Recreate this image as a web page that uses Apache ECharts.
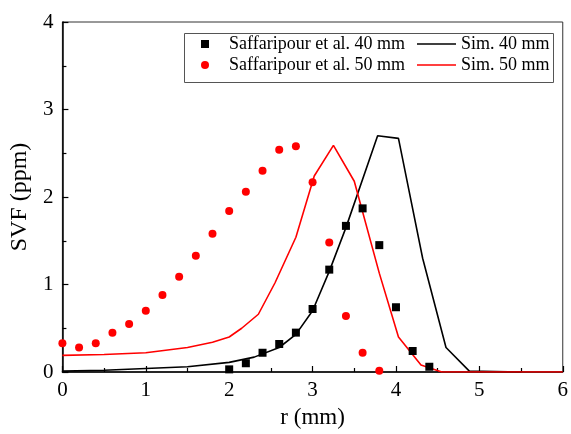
<!DOCTYPE html>
<html>
<head>
<meta charset="utf-8">
<script src="https://cdn.jsdelivr.net/npm/echarts@6/dist/echarts.min.js"></script>
<style>
  html, body { margin: 0; padding: 0; background: #fff; }
  #chart { width: 571px; height: 434px; }
</style>
</head>
<body>
<div id="chart"></div>
<script>
// Measured soot volume fraction (ppm) vs radius r (mm)
const exp40R   = [2.0, 2.2, 2.4, 2.6, 2.8, 3.0, 3.2, 3.4, 3.6, 3.8, 4.0, 4.2, 4.4];
const exp40SVF = [0.03, 0.10, 0.22, 0.32, 0.45, 0.72, 1.17, 1.67, 1.87, 1.45, 0.74, 0.24, 0.06];

const exp50R   = [0.0, 0.2, 0.4, 0.6, 0.8, 1.0, 1.2, 1.4, 1.6, 1.8, 2.0, 2.2, 2.4, 2.6, 2.8, 3.0, 3.2, 3.4, 3.6, 3.8];
const exp50SVF = [0.33, 0.28, 0.33, 0.45, 0.55, 0.70, 0.88, 1.09, 1.33, 1.58, 1.84, 2.06, 2.30, 2.54, 2.58, 2.17, 1.48, 0.64, 0.22, 0.015];

// Simulated profiles
const sim40R   = [0.0, 0.5, 1.0, 1.5, 2.0, 2.3, 2.6, 2.8, 3.0, 3.2, 3.4, 3.78, 4.03, 4.32, 4.6, 4.88, 5.5];
const sim40SVF = [0.01, 0.02, 0.04, 0.06, 0.11, 0.17, 0.28, 0.43, 0.70, 1.15, 1.65, 2.70, 2.67, 1.30, 0.28, 0.01, 0.0];

const sim50R   = [0.0, 0.5, 1.0, 1.5, 1.8, 2.0, 2.15, 2.35, 2.55, 2.8, 3.02, 3.25, 3.5, 3.8, 4.03, 4.3, 4.55, 6.0];
const sim50SVF = [0.19, 0.20, 0.22, 0.28, 0.34, 0.40, 0.50, 0.66, 1.02, 1.54, 2.24, 2.59, 2.18, 1.13, 0.40, 0.08, 0.0, 0.0];

const seriesNames = ['Saffaripour et al. 40 mm', 'Saffaripour et al. 50 mm', 'Sim. 40 mm', 'Sim. 50 mm'];

const pairs = (xs, ys) => xs.map((x, i) => [x, ys[i]]);
const FONT = 'Liberation Serif';

const legendText = { fontFamily: FONT, fontSize: 18, lineHeight: 18, color: '#000' };

const chart = echarts.init(document.getElementById('chart'));
chart.setOption({
  animation: false,
  backgroundColor: '#fff',
  textStyle: { fontFamily: FONT },
  grid: {
    left: 62, right: 4, top: 22, bottom: 57,
    show: true, borderColor: '#333', borderWidth: 1, backgroundColor: 'transparent'
  },
  xAxis: {
    type: 'value', min: 0, max: 6, interval: 1,
    name: 'r (mm)', nameLocation: 'middle', nameGap: 34,
    nameTextStyle: { fontFamily: FONT, fontSize: 23, color: '#000' },
    axisLine: { onZero: false, lineStyle: { color: '#000', width: 1.5 } },
    axisTick: { inside: true, length: 6, lineStyle: { color: '#000', width: 1.2 } },
    minorTick: { show: true, splitNumber: 2, length: 4, lineStyle: { color: '#000', width: 1.2 } },
    axisLabel: { fontFamily: FONT, fontSize: 21, color: '#000', margin: 8 },
    splitLine: { show: false }
  },
  yAxis: {
    type: 'value', min: 0, max: 4, interval: 1,
    name: 'SVF (ppm)', nameLocation: 'middle', nameGap: 30,
    nameTextStyle: { fontFamily: FONT, fontSize: 24, color: '#000' },
    axisLine: { onZero: false, lineStyle: { color: '#000', width: 1.5 } },
    axisTick: { inside: true, length: 6, lineStyle: { color: '#000', width: 1.2 } },
    minorTick: { show: true, splitNumber: 2, length: 4, lineStyle: { color: '#000', width: 1.2 } },
    axisLabel: { fontFamily: FONT, fontSize: 21, color: '#000', margin: 9 },
    splitLine: { show: false }
  },
  legend: [
    {
      data: [
        { name: seriesNames[0], icon: 'rect' },
        { name: seriesNames[1], icon: 'circle' }
      ],
      orient: 'vertical', left: 201, top: 35, padding: 0,
      itemWidth: 8, itemHeight: 8, itemGap: 3,
      textStyle: Object.assign({ padding: [0, 0, 0, 15] }, legendText)
    },
    {
      data: [
        { name: seriesNames[2], icon: 'rect' },
        { name: seriesNames[3], icon: 'rect' }
      ],
      orient: 'vertical', left: 417, top: 35, padding: 0,
      itemWidth: 39, itemHeight: 1.6, itemGap: 3,
      textStyle: legendText
    }
  ],
  graphic: [{
    type: 'rect', left: 182, top: 31, z: 100,
    shape: { width: 369, height: 49 },
    style: { fill: 'none', stroke: '#555', lineWidth: 1 }
  }],
  series: [
    {
      name: seriesNames[0], type: 'scatter', symbol: 'rect', symbolSize: 8,
      itemStyle: { color: '#000', opacity: 1 },
      data: pairs(exp40R, exp40SVF), z: 5
    },
    {
      name: seriesNames[1], type: 'scatter', symbol: 'circle', symbolSize: 8,
      itemStyle: { color: '#ff0000', opacity: 1 },
      data: pairs(exp50R, exp50SVF), z: 5
    },
    {
      name: seriesNames[2], type: 'line', symbol: 'none', showSymbol: false,
      lineStyle: { color: '#000', width: 1.6 }, itemStyle: { color: '#000' },
      data: pairs(sim40R, sim40SVF), z: 3
    },
    {
      name: seriesNames[3], type: 'line', symbol: 'none', showSymbol: false,
      lineStyle: { color: '#ff0000', width: 1.6 }, itemStyle: { color: '#ff0000' },
      data: pairs(sim50R, sim50SVF), z: 4
    }
  ]
});
</script>
</body>
</html>
